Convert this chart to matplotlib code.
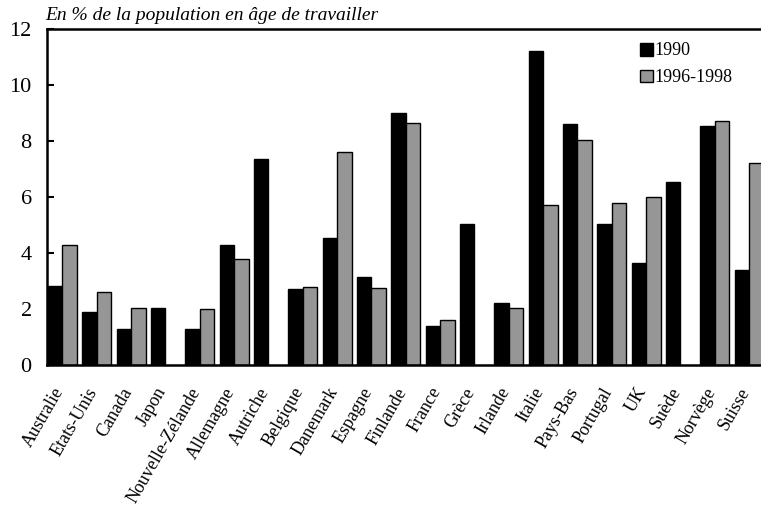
import matplotlib.pyplot as plt
import matplotlib.transforms as mtransforms
import numpy as np

plt.rcParams['font.family'] = ['Liberation Serif', 'DejaVu Serif']

# Données
pays = ["Australie", "Etats-Unis", "Canada", "Japon", "Nouvelle-Zélande",
        "Allemagne", "Autriche", "Belgique", "Danemark", "Espagne", "Finlande",
        "France", "Grèce", "Irlande", "Italie", "Pays-Bas", "Portugal", "UK",
        "Suède", "Norvège", "Suisse"]
v1990 = [2.82, 1.9, 1.3, 2.05, 1.3, 4.3, 7.35, 2.7, 4.55, 3.15, 9.0,
         1.4, 5.05, 2.2, 11.2, 8.6, 5.05, 3.65, 6.55, 8.55, 3.4]
v9698 = [4.3, 2.6, 2.05, np.nan, 2.0, 3.8, np.nan, 2.8, 7.6, 2.75, 8.65,
         1.6, np.nan, 2.05, 5.7, 8.05, 5.8, 6.0, np.nan, 8.7, 7.2]

x = np.arange(len(pays))
w = 0.42

fig = plt.figure(figsize=(7.61, 5.07), dpi=100)
ax = fig.add_axes([47/761, 1 - 365/507, 721/761, 336/507])

ax.bar(x - 0.47, v1990, w, align='edge', color='black', edgecolor='black',
       linewidth=1, label='1990')
ax.bar(x - 0.05, v9698, w, align='edge', color='#969696', edgecolor='black',
       linewidth=1, label='1996-1998')

ax.set_xlim(-0.5, len(pays) - 0.5)
ax.set_ylim(0, 12)
ax.set_yticks([0, 2, 4, 6, 8, 10, 12])
ax.tick_params(axis='y', direction='in', length=5, width=1.5, labelsize=16, pad=11)
ax.set_xticks(x)
ax.set_xticklabels(pays, rotation=60, ha='right', rotation_mode='anchor', fontsize=13)
ax.tick_params(axis='x', length=0, pad=14)

# décalage des étiquettes vers la gauche
shift = mtransforms.ScaledTranslation(-12/100, 0, fig.dpi_scale_trans)
for lab in ax.get_xticklabels():
    lab.set_transform(lab.get_transform() + shift)

for s in ['left', 'top', 'bottom']:
    ax.spines[s].set_linewidth(1.8)
ax.spines['right'].set_visible(False)

ax.legend(loc='upper left', bbox_to_anchor=(0.822, 0.96), frameon=False,
          fontsize=13, handlelength=0.72, handleheight=0.72, handletextpad=0.1,
          labelspacing=0.55, borderaxespad=0, borderpad=0)

fig.text(45/761, 1 - 20/507, "En % de la population en âge de travailler",
         fontsize=14, style='italic', va='baseline')

fig.savefig('out.png', dpi=100)
